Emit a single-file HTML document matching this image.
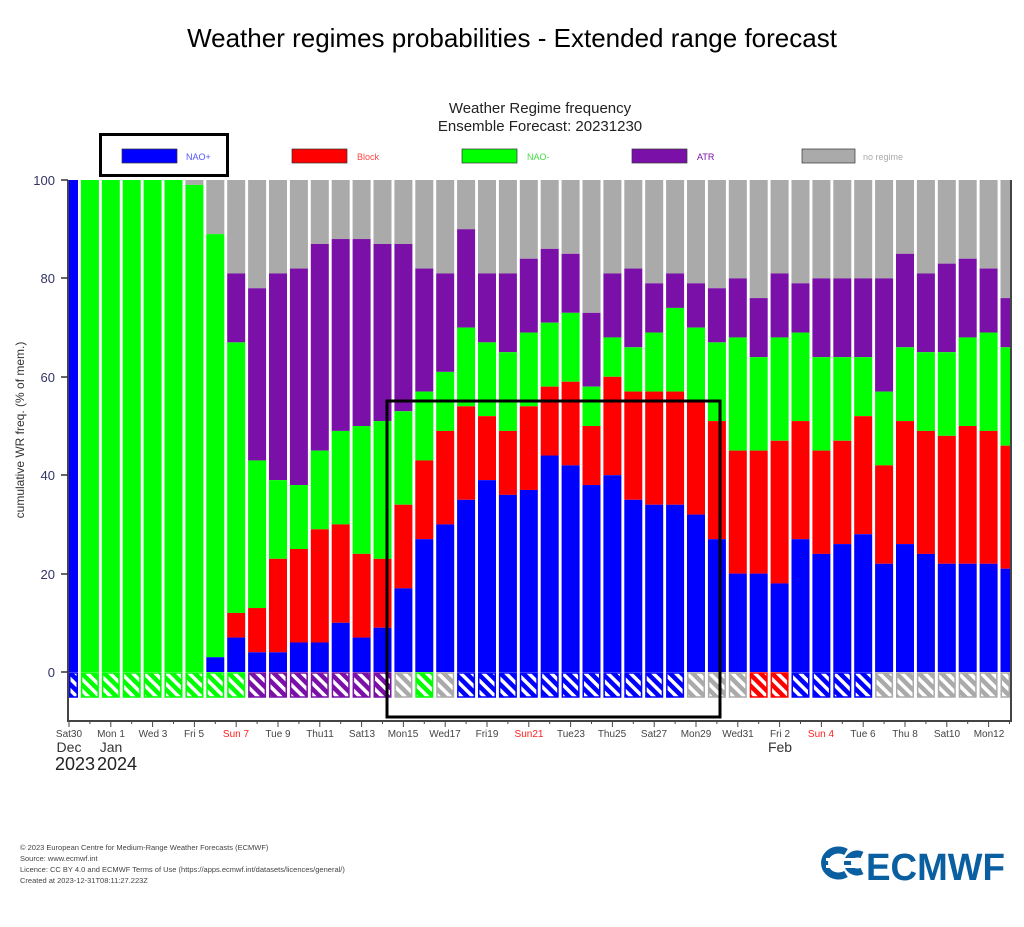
<!DOCTYPE html>
<html><head><meta charset="utf-8"><style>
body{margin:0;background:#fff;width:1024px;height:922px;overflow:hidden;font-family:"Liberation Sans",sans-serif}
</style></head><body>
<svg id="s" width="1024" height="922" xmlns="http://www.w3.org/2000/svg" font-family="Liberation Sans, sans-serif">
<defs></defs>
<text x="512" y="47" font-size="26" text-anchor="middle" fill="#000">Weather regimes probabilities - Extended range forecast</text>
<text x="540" y="113" font-size="15" text-anchor="middle" fill="#222">Weather Regime frequency</text>
<text x="540" y="131" font-size="15" text-anchor="middle" fill="#222">Ensemble Forecast: 20231230</text>
<g id="bars"></g>
<g stroke="#444" stroke-width="2" fill="none">
<line x1="68" y1="180" x2="68" y2="721"/><line x1="67" y1="721" x2="1012" y2="721"/><line x1="1011" y1="180" x2="1011" y2="721"/>
</g>
<g font-size="13" fill="#333366" text-anchor="end">
<text x="55" y="185">100</text><text x="55" y="283">80</text><text x="55" y="382">60</text><text x="55" y="480">40</text><text x="55" y="579">20</text><text x="55" y="677">0</text>
</g>
<g stroke="#333" stroke-width="1.5">
<line x1="61" y1="180" x2="68" y2="180"/><line x1="61" y1="278" x2="68" y2="278"/><line x1="61" y1="377" x2="68" y2="377"/><line x1="61" y1="475" x2="68" y2="475"/><line x1="61" y1="574" x2="68" y2="574"/><line x1="61" y1="672" x2="68" y2="672"/>
</g>
<text transform="translate(24,430) rotate(-90)" font-size="12" text-anchor="middle" fill="#333">cumulative WR freq. (% of mem.)</text>
<g id="ticks"></g>
<g font-size="10" fill="#444" text-anchor="middle">
<text x="69" y="737">Sat30</text><text x="111" y="737">Mon 1</text><text x="153" y="737">Wed 3</text><text x="194" y="737">Fri 5</text><text x="236" y="737" fill="#ff2020">Sun 7</text><text x="278" y="737">Tue 9</text><text x="320" y="737">Thu11</text><text x="362" y="737">Sat13</text><text x="403" y="737">Mon15</text><text x="445" y="737">Wed17</text><text x="487" y="737">Fri19</text><text x="529" y="737" fill="#ff2020">Sun21</text><text x="571" y="737">Tue23</text><text x="612" y="737">Thu25</text><text x="654" y="737">Sat27</text><text x="696" y="737">Mon29</text><text x="738" y="737">Wed31</text><text x="780" y="737">Fri 2</text><text x="821" y="737" fill="#ff2020">Sun 4</text><text x="863" y="737">Tue 6</text><text x="905" y="737">Thu 8</text><text x="947" y="737">Sat10</text><text x="989" y="737">Mon12</text>
</g>
<g font-size="14" fill="#333" text-anchor="middle"><text x="69" y="752">Dec</text><text x="111" y="752">Jan</text><text x="780" y="752">Feb</text></g>
<g font-size="18" fill="#222" text-anchor="middle"><text x="75" y="770">2023</text><text x="117" y="770">2024</text></g>
<rect x="122" y="149" width="55" height="14" fill="#0000ff" stroke="#333" stroke-width="0.7"/><text x="186" y="160" font-size="9" fill="#5555ff">NAO+</text>
<rect x="292" y="149" width="55" height="14" fill="#ff0000" stroke="#333" stroke-width="0.7"/><text x="357" y="160" font-size="9" fill="#ff4444">Block</text>
<rect x="462" y="149" width="55" height="14" fill="#00ff00" stroke="#333" stroke-width="0.7"/><text x="527" y="160" font-size="9" fill="#44dd44">NAO-</text>
<rect x="632" y="149" width="55" height="14" fill="#7a10a8" stroke="#333" stroke-width="0.7"/><text x="697" y="160" font-size="9" fill="#7a10a8">ATR</text>
<rect x="802" y="149" width="53" height="14" fill="#aaaaaa" stroke="#333" stroke-width="0.7"/><text x="863" y="160" font-size="9" fill="#aaaaaa">no regime</text>
<rect x="100.5" y="134.5" width="127" height="41" fill="none" stroke="#000" stroke-width="3"/>
<rect x="387" y="401" width="333" height="316" fill="none" stroke="#000" stroke-width="3"/>
<g font-size="7.5" fill="#444">
<text x="20" y="850">© 2023 European Centre for Medium-Range Weather Forecasts (ECMWF)</text>
<text x="20" y="861">Source: www.ecmwf.int</text>
<text x="20" y="872">Licence: CC BY 4.0 and ECMWF Terms of Use (https://apps.ecmwf.int/datasets/licences/general/)</text>
<text x="20" y="883">Created at 2023-12-31T08:11:27.223Z</text>
</g>
<g fill="none" stroke="#0a5fa0" stroke-width="7">
<path d="M846 852 A14 13 0 1 0 846 874"/>
<path d="M862 855 A10 9 0 1 0 862 871"/>
</g>
<g fill="#fff"><rect x="826" y="858" width="36" height="3"/><rect x="826" y="865" width="36" height="3"/></g>
<text x="866" y="880" font-size="38" font-weight="bold" fill="#0a5fa0" textLength="139" lengthAdjust="spacingAndGlyphs">ECMWF</text>
</svg>
<script>
var d=[[100,100,100,100,'b'],[0,0,100,100,'g'],[0,0,100,100,'g'],[0,0,100,100,'g'],[0,0,100,100,'g'],[0,0,100,100,'g'],[0,0,99,99,'g'],[3,3,89,89,'g'],[7,12,67,81,'g'],[4,13,43,78,'p'],[4,23,39,81,'p'],[6,25,38,82,'p'],[6,29,45,87,'p'],[10,30,49,88,'p'],[7,24,50,88,'p'],[9,23,51,87,'p'],[17,34,53,87,'n'],[27,43,57,82,'g'],[30,49,61,81,'n'],[35,54,70,90,'b'],[39,52,67,81,'b'],[36,49,65,81,'b'],[37,54,69,84,'b'],[44,58,71,86,'b'],[42,59,73,85,'b'],[38,50,58,73,'b'],[40,60,68,81,'b'],[35,57,66,82,'b'],[34,57,69,79,'b'],[34,57,74,81,'b'],[32,55,70,79,'n'],[27,51,67,78,'n'],[20,45,68,80,'n'],[20,45,64,76,'r'],[18,47,68,81,'r'],[27,51,69,79,'b'],[24,45,64,80,'b'],[26,47,64,80,'b'],[28,52,64,80,'b'],[22,42,57,80,'n'],[26,51,66,85,'n'],[24,49,65,81,'n'],[22,48,65,83,'n'],[22,50,68,84,'n'],[22,49,69,82,'n'],[21,46,66,76,'n']];
var C={b:'#0000ff',r:'#ff0000',g:'#00ff00',p:'#7a10a8',n:'#aaaaaa'};
var NS='http://www.w3.org/2000/svg',g=document.getElementById('bars'),s=document.getElementById('s');
function R(x,y,w,h,f,st){var r=document.createElementNS(NS,'rect');r.setAttribute('x',x);r.setAttribute('y',y);r.setAttribute('width',w);r.setAttribute('height',h);r.setAttribute('fill',f);if(st){r.setAttribute('stroke',st);r.setAttribute('stroke-width',1.5);}g.appendChild(r);}
function Y(v){return 672-v*4.92;}
var defs=s.querySelector('defs');
for(var k in C){var p=document.createElementNS(NS,'pattern');p.setAttribute('id','hatch_'+k);p.setAttribute('patternUnits','userSpaceOnUse');p.setAttribute('width',8);p.setAttribute('height',8);p.setAttribute('patternTransform','rotate(45)');p.innerHTML='<rect width="8" height="8" fill="#fff"/><rect width="8" height="4.5" fill="'+C[k]+'"/>';defs.appendChild(p);}
for(var i=0;i<d.length;i++){var c=69+20.9*i,x0=c-9,x1=c+9;if(x0<69)x0=69;if(x1>1010)x1=1010;var w=x1-x0,v=d[i];
R(x0,Y(100),w,Y(v[3])-Y(100),C.n);R(x0,Y(v[3]),w,Y(v[2])-Y(v[3]),C.p);R(x0,Y(v[2]),w,Y(v[1])-Y(v[2]),C.g);R(x0,Y(v[1]),w,Y(v[0])-Y(v[1]),C.r);R(x0,Y(v[0]),w,672-Y(v[0]),C.b);
R(x0+0.75,673,w-1.5,24,'url(#hatch_'+v[4]+')',C[v[4]]);
var t=document.createElementNS(NS,'line');t.setAttribute('x1',c);t.setAttribute('x2',c);t.setAttribute('y1',721);t.setAttribute('y2',i%2?724:727);t.setAttribute('stroke','#444');document.getElementById('ticks').appendChild(t);}
</script>
</body></html>
